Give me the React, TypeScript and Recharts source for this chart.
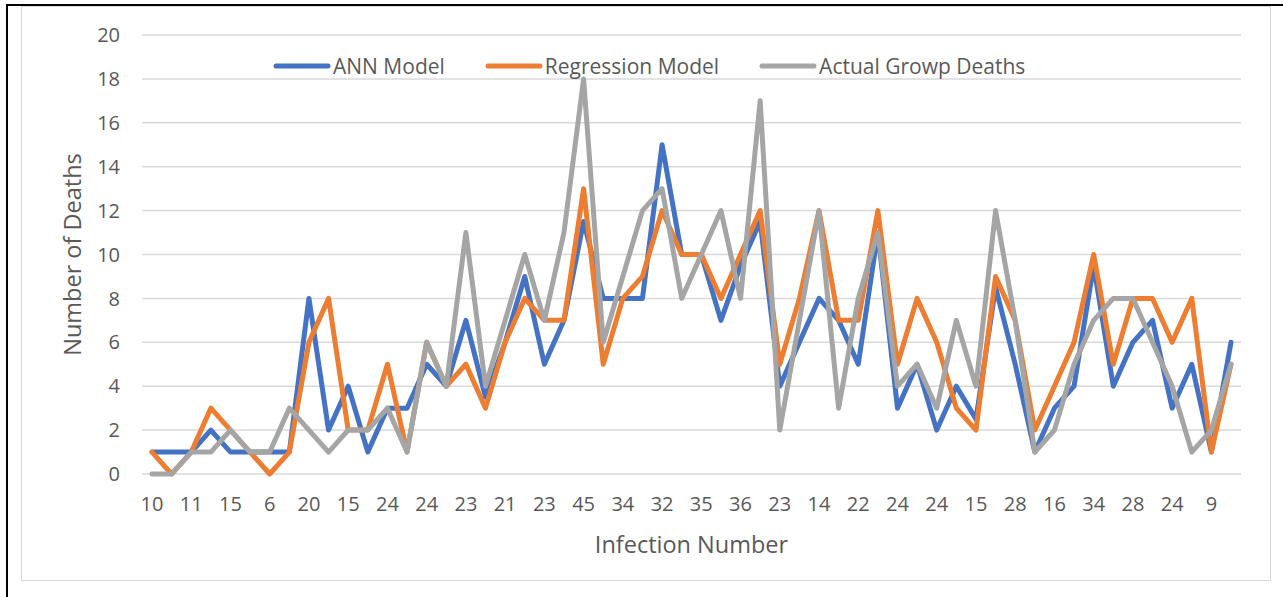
import { LineChart, Line, XAxis, YAxis, CartesianGrid } from "recharts";

// visible category labels (every other infection number is shown on the axis)
const infectionLabels = [
  "10", "11", "15", "6", "20", "15", "24", "24", "23", "21", "23", "45", "34", "32",
  "35", "36", "23", "14", "22", "24", "24", "15", "28", "16", "34", "28", "24", "9",
];

const annModel = [
  1, 1, 1, 2, 1, 1, 1, 1, 8, 2, 4, 1, 3, 3, 5, 4, 7, 3.5, 6, 9, 5, 7, 11.5, 8, 8, 8, 15, 10,
  10, 7, 9.5, 11.5, 4, 6, 8, 7, 5, 11, 3, 5, 2, 4, 2.5, 8.5, 5, 1, 3, 4, 9.5, 4, 6, 7, 3, 5, 1, 6,
];

const regressionModel = [
  1, 0, 1, 3, 2, 1, 0, 1, 6, 8, 2, 2, 5, 1, 6, 4, 5, 3, 6, 8, 7, 7, 13, 5, 8, 9, 12, 10,
  10, 8, 10, 12, 5, 8, 12, 7, 7, 12, 5, 8, 6, 3, 2, 9, 7, 2, 4, 6, 10, 5, 8, 8, 6, 8, 1, 5,
];

const actualDeaths = [
  0, 0, 1, 1, 2, 1, 1, 3, 2, 1, 2, 2, 3, 1, 6, 4, 11, 4, 7, 10, 7, 11, 18, 6, 9, 12, 13, 8,
  10, 12, 8, 17, 2, 7, 12, 3, 8, 11, 4, 5, 3, 7, 4, 12, 7, 1, 2, 5, 7, 8, 8, 6, 4, 1, 2, 5,
];

const yTicks = [0, 2, 4, 6, 8, 10, 12, 14, 16, 18, 20];

const BLUE = "#4472C4";
const ORANGE = "#ED7D31";
const GRAY = "#A5A5A5";
const TEXT = "#595959";
const FONT = "'Open Sans', 'Noto Sans', sans-serif";

const data = annModel.map((ann, i) => ({
  infection: i % 2 === 0 ? infectionLabels[i / 2] : "",
  ann,
  regression: regressionModel[i],
  actual: actualDeaths[i],
}));

const legendItems = [
  { label: "ANN Model", color: BLUE },
  { label: "Regression Model", color: ORANGE },
  { label: "Actual Growp Deaths", color: GRAY },
];

function YTitle(props: any) {
  const { viewBox } = props;
  const x = viewBox.x - 10;
  const y = viewBox.y + viewBox.height / 2;
  return (
    <text
      x={x}
      y={y}
      transform={`rotate(-90, ${x}, ${y})`}
      textAnchor="middle"
      dominantBaseline="central"
      fill={TEXT}
      fontSize={23.5}
      fontFamily={FONT}
    >
      Number of Deaths
    </text>
  );
}

function XTitle(props: any) {
  const { viewBox } = props;
  return (
    <text
      x={viewBox.x + viewBox.width / 2}
      y={viewBox.y + 70}
      textAnchor="middle"
      dominantBaseline="central"
      fill={TEXT}
      fontSize={23.5}
      fontFamily={FONT}
    >
      Infection Number
    </text>
  );
}

export default function App() {
  return (
    <div
      style={{
        position: "absolute",
        left: 0,
        top: 0,
        width: 1283,
        height: 597,
        background: "#fff",
        overflow: "hidden",
        fontFamily: FONT,
      }}
    >
      <div
        style={{
          position: "absolute",
          left: 6,
          top: 4,
          width: 1290,
          height: 600,
          borderLeft: "2px solid #000",
          borderTop: "2px solid #000",
        }}
      />
      <div
        style={{
          position: "absolute",
          left: 21,
          top: 6,
          width: 1248,
          height: 573,
          border: "1.5px solid #d9d9d9",
        }}
      />
      <div style={{ position: "absolute", left: 0, top: 0 }}>
        <LineChart
          width={1283}
          height={597}
          data={data}
          margin={{ top: 35, right: 42, bottom: 43, left: 82 }}
        >
          <CartesianGrid vertical={false} stroke="#d9d9d9" strokeWidth={1.5} />
          <XAxis
            dataKey="infection"
            interval={0}
            axisLine={false}
            tickLine={false}
            height={80}
            tickMargin={17}
            padding={{ left: 10, right: 10 }}
            tick={{ fill: TEXT, fontSize: 20, fontFamily: FONT }}
            label={<XTitle />}
          />
          <YAxis
            domain={[0, 20]}
            ticks={yTicks}
            width={60}
            axisLine={false}
            tickLine={false}
            tickMargin={16}
            tick={{ fill: TEXT, fontSize: 20, fontFamily: FONT }}
            label={<YTitle />}
          />
          <Line
            type="linear"
            dataKey="ann"
            stroke={BLUE}
            strokeWidth={5}
            strokeLinejoin="round"
            strokeLinecap="round"
            dot={false}
            isAnimationActive={false}
          />
          <Line
            type="linear"
            dataKey="regression"
            stroke={ORANGE}
            strokeWidth={5}
            strokeLinejoin="round"
            strokeLinecap="round"
            dot={false}
            isAnimationActive={false}
          />
          <Line
            type="linear"
            dataKey="actual"
            stroke={GRAY}
            strokeWidth={5}
            strokeLinejoin="round"
            strokeLinecap="round"
            dot={false}
            isAnimationActive={false}
          />
        </LineChart>
      </div>
      <div
        style={{
          position: "absolute",
          left: 273,
          top: 52,
          display: "flex",
          alignItems: "center",
          height: 28,
        }}
      >
        {legendItems.map((item) => (
          <div key={item.label} style={{ display: "flex", alignItems: "center", marginRight: 40 }}>
            <svg width={58} height={10}>
              <line x1={3} y1={5} x2={55} y2={5} stroke={item.color} strokeWidth={5} strokeLinecap="round" />
            </svg>
            <span style={{ color: TEXT, fontSize: 21, marginLeft: 2, whiteSpace: "nowrap" }}>{item.label}</span>
          </div>
        ))}
      </div>
    </div>
  );
}
